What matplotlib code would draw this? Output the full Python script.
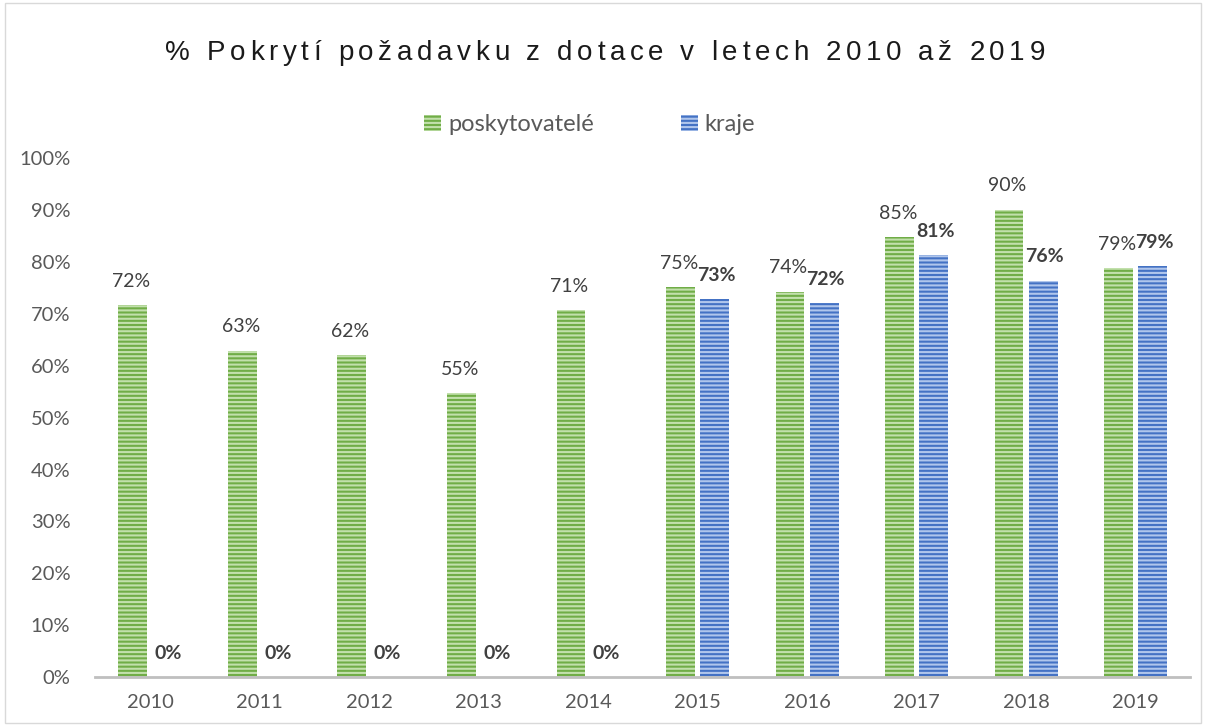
import numpy as np
import matplotlib.pyplot as plt
from matplotlib.patches import Rectangle

years = ['2010', '2011', '2012', '2013', '2014', '2015', '2016', '2017', '2018', '2019']
poskytovatele = [71.7, 62.9, 62.1, 54.7, 70.7, 75.2, 74.3, 84.8, 90.1, 78.8]
kraje = [0, 0, 0, 0, 0, 72.8, 72.1, 81.3, 76.4, 79.2]
title = '% Pokrytí požadavku z dotace v letech 2010 až 2019'

plt.rcParams['font.family'] = ['Lato', 'DejaVu Sans']
plt.rcParams['hatch.linewidth'] = 1.5
txt = '#595959'

fig = plt.figure(figsize=(12.06, 7.26), dpi=100)
fig.patches.append(Rectangle((0.004, 0.004), 0.992, 0.992, transform=fig.transFigure,
                             fill=False, edgecolor='#d9d9d9', linewidth=1))
ax = fig.add_axes([0.079, 0.0675, 0.908, 0.7145])

x = np.arange(len(years))
w = 0.262
g = ax.bar(x - 0.157, poskytovatele, w, color='#70AD47', edgecolor='#C2E0AC',
           linewidth=0, hatch='----', label='poskytovatelé')
b = ax.bar(x + 0.157, kraje, w, color='#4472C4', edgecolor='#B0C6EC',
           linewidth=0, hatch='----', label='kraje')

for xi, v in zip(x, poskytovatele):
    ax.annotate(f'{v:.0f}%', (xi - 0.157, v), xytext=(-1, 11), textcoords='offset points',
                ha='center', va='bottom', fontsize=14, color='#404040')
for xi, v in zip(x, kraje):
    ax.annotate(f'{v:.0f}%', (xi + 0.157, v), xytext=(1, 11), textcoords='offset points',
                ha='center', va='bottom', fontsize=14, color='#404040', fontweight='bold')

ax.set_xlim(-0.5, len(years) - 0.5)
ax.set_ylim(0, 100)
ax.set_yticks(range(0, 101, 10))
ax.set_yticklabels([f'{t}%' for t in range(0, 101, 10)])
ax.set_xticks(x)
ax.set_xticklabels(years)
ax.tick_params(axis='both', length=0, labelsize=14.5, colors=txt)
ax.tick_params(axis='x', pad=12)
ax.tick_params(axis='y', pad=18)
for s in ['top', 'right', 'left']:
    ax.spines[s].set_visible(False)
ax.spines['bottom'].set_color('#bfbfbf')
ax.spines['bottom'].set_linewidth(2)

# letter-spaced title, placed glyph by glyph
r = fig.canvas.get_renderer()
tkw = dict(fontsize=20, color='#1a1a1a', family='Liberation Sans', va='baseline')

def width(s):
    t = fig.text(0, 0, s + '|', **tkw)
    bar = fig.text(0, 0, '|', **tkw)
    wd = t.get_window_extent(r).width - bar.get_window_extent(r).width
    t.remove()
    bar.remove()
    return wd

left, right = 165, 1045
natural = width(title)
gap = (right - left - natural) / (len(title) - 1)
for i, ch in enumerate(title):
    if ch == ' ':
        continue
    px = left + width(title[:i]) + i * gap
    fig.text(px / 1206, 0.917, ch, ha='left', **tkw)

fig.legend(handles=[g, b], loc='center', bbox_to_anchor=(0.489, 0.828), ncol=2,
           frameon=False, fontsize=17, labelcolor=txt, columnspacing=3.7,
           handlelength=0.7, handleheight=0.7, handletextpad=0.3)

fig.savefig('out.png', dpi=100)
